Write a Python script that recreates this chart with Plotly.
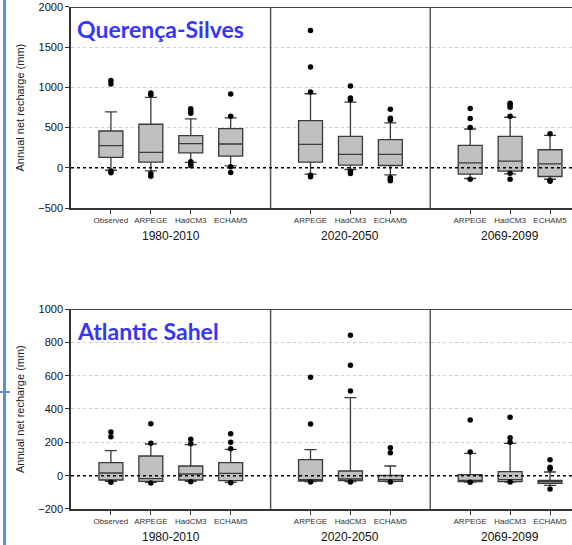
import plotly.graph_objects as go

# ---------------- data ----------------
box_labels = ["Observed", "ARPEGE", "HadCM3", "ECHAM5",
              "ARPEGE", "HadCM3", "ECHAM5",
              "ARPEGE", "HadCM3", "ECHAM5"]
box_pos = [1, 2, 3, 4, 6, 7, 8, 10, 11, 12]
periods = ["1980-2010", "2020-2050", "2069-2099"]
period_centers = [2.5, 7, 11]
dividers = [5, 9]

# Querença-Silves
qs_q1 = [129, 71, 187, 146, 71, 33, 29, -79, -42, -108]
qs_median = [275, 192, 300, 296, 292, 167, 167, 62, 83, 50]
qs_q3 = [458, 542, 400, 487, 587, 392, 350, 279, 392, 225]
qs_low = [-30, -38, 67, 25, -79, -21, -87, -133, -75, -142]
qs_high = [696, 875, 608, 621, 921, 817, 558, 483, 629, 404]
qs_out = [
    [-40, -62, 1042, 1087],
    [-71, -104, 908, 929],
    [25, 46, 75, 680, 708, 733],
    [12, -58, 642, 917],
    [-92, -112, 942, 1254, 1708],
    [-42, -71, 846, 867, 1017],
    [-125, -142, -162, 596, 617, 729],
    [-142, 500, 612, 737],
    [-67, -142, 642, 754, 783, 804],
    [-154, -167, 425],
]

# Atlantic Sahel
as_q1 = [-26, -34, -26, -30, -32, -30, -34, -36, -36, -46]
as_median = [16, -18, 10, 14, -24, -20, -24, -28, -24, -36]
as_q3 = [78, 118, 58, 78, 96, 28, 2, 6, 24, -28]
as_low = [-34, -40, -34, -40, -36, -36, -36, -38, -38, -58]
as_high = [150, 190, 186, 158, 156, 468, 58, 134, 194, 22]
as_out = [
    [-40, 234, 262],
    [-44, 194, 312],
    [-36, 192, 218],
    [-42, 162, 200, 252],
    [-38, 310, 590],
    [-38, 508, 662, 842],
    [-38, 138, 168],
    [-40, 142, 334],
    [-38, 200, 228, 350],
    [-80, 40, 50, 96],
]

panels = [
    dict(name="Querença-Silves", q1=qs_q1, med=qs_median, q3=qs_q3,
         lo=qs_low, hi=qs_high, out=qs_out, yr=[-500, 2000],
         ticks=[-500, 0, 500, 1000, 1500, 2000], dom=[0.6183, 0.9872]),
    dict(name="Atlantic Sahel", q1=as_q1, med=as_median, q3=as_q3,
         lo=as_low, hi=as_high, out=as_out, yr=[-200, 1000],
         ticks=[-200, 0, 200, 400, 600, 800, 1000], dom=[0.0661, 0.4330]),
]

W, H = 572, 545
ML = 71
XR = [0, 12.55]
FONT = "Arial, Liberation Sans, sans-serif"

fig = go.Figure()
shapes = []
annotations = []

for i, p in enumerate(panels):
    xa = "x" if i == 0 else "x2"
    ya = "y" if i == 0 else "y2"
    for j in range(len(box_pos)):
        fig.add_trace(go.Box(
            x=[box_pos[j]], q1=[p["q1"][j]], median=[p["med"][j]],
            q3=[p["q3"][j]], lowerfence=[p["lo"][j]], upperfence=[p["hi"][j]],
            width=0.6, whiskerwidth=0.5, fillcolor="#c0c0c0",
            line=dict(color="#3a3a3a", width=1.3), boxpoints=False,
            xaxis=xa, yaxis=ya, showlegend=False, hoverinfo="skip"))
        fig.add_trace(go.Scatter(
            x=[box_pos[j]] * len(p["out"][j]), y=p["out"][j], mode="markers",
            marker=dict(color="black", size=5.5), xaxis=xa, yaxis=ya,
            showlegend=False, hoverinfo="skip"))
    for d in dividers:
        shapes.append(dict(type="line", xref=xa, yref=ya, x0=d, x1=d,
                           y0=p["yr"][0], y1=p["yr"][1],
                           line=dict(color="#555555", width=1.5)))
    shapes.append(dict(type="line", xref=xa, yref=ya, x0=XR[0], x1=XR[1],
                       y0=p["yr"][1], y1=p["yr"][1],
                       line=dict(color="#444444", width=2)))
    shapes.append(dict(type="line", xref=xa, yref=ya, x0=XR[0], x1=XR[1],
                       y0=0, y1=0, layer="above",
                       line=dict(color="black", width=1.5, dash="dot")))
    annotations.append(dict(text="<b>%s</b>" % p["name"], xref="paper", yref="paper",
                            x=0.008, y=p["dom"][1] - 0.04, xanchor="left", yanchor="middle",
                            showarrow=False,
                            font=dict(family="Lato, Open Sans, sans-serif", size=23, color="#3636f8")))
    annotations.append(dict(text="Annual net recharge (mm)", xref="paper", yref="paper",
                            x=(20 - ML) / (W - ML), y=sum(p["dom"]) / 2, textangle=-90,
                            xanchor="center", yanchor="middle", showarrow=False,
                            font=dict(family=FONT, size=11, color="#222222")))
    ylab = p["dom"][0] - 28 / H
    for c, t in zip(period_centers, periods):
        annotations.append(dict(text=t, xref=xa, yref="paper", x=c, y=ylab,
                                xanchor="center", yanchor="middle", showarrow=False,
                                font=dict(family=FONT, size=12, color="#111111")))

axis_common_x = dict(range=XR, tickvals=box_pos, ticktext=box_labels,
                     tickfont=dict(family=FONT, size=8, color="#333333"),
                     ticks="outside", ticklen=4, tickcolor="#333333",
                     showline=True, linecolor="#333333", linewidth=1.5,
                     showgrid=False, zeroline=False, fixedrange=True,
                     automargin=False)

fig.update_layout(
    width=W, height=H,
    margin=dict(l=ML, r=0, t=0, b=0, autoexpand=False),
    plot_bgcolor="white", paper_bgcolor="white",
    shapes=shapes + [
        dict(type="line", xref="paper", yref="paper", x0=-66.5 / (W - ML), x1=-66.5 / (W - ML),
             y0=0, y1=1, line=dict(color="#5a8fdc", width=3)),
        dict(type="line", xref="paper", yref="paper", x0=-71 / (W - ML), x1=-61 / (W - ML),
             y0=(H - 392) / H, y1=(H - 392) / H, line=dict(color="#5a8fdc", width=2)),
    ],
    annotations=annotations,
    xaxis=dict(domain=[0, 1], anchor="y", **axis_common_x),
    xaxis2=dict(domain=[0, 1], anchor="y2", **axis_common_x),
)

for i, p in enumerate(panels):
    key = "yaxis" if i == 0 else "yaxis2"
    fig.update_layout({key: dict(
        domain=p["dom"], anchor="x" if i == 0 else "x2", range=p["yr"],
        tickvals=p["ticks"], ticks="outside", ticklen=4, tickcolor="#333333",
        tickfont=dict(family=FONT, size=11, color="#111111"),
        showline=True, linecolor="#333333", linewidth=1.5,
        showgrid=True, gridcolor="#cccccc", griddash="dot", gridwidth=1,
        zeroline=False, fixedrange=True, automargin=False)})

fig.write_html("out.html", config={"displayModeBar": False},
               post_script="document.body.style.margin='0';document.body.style.overflow='hidden';")
